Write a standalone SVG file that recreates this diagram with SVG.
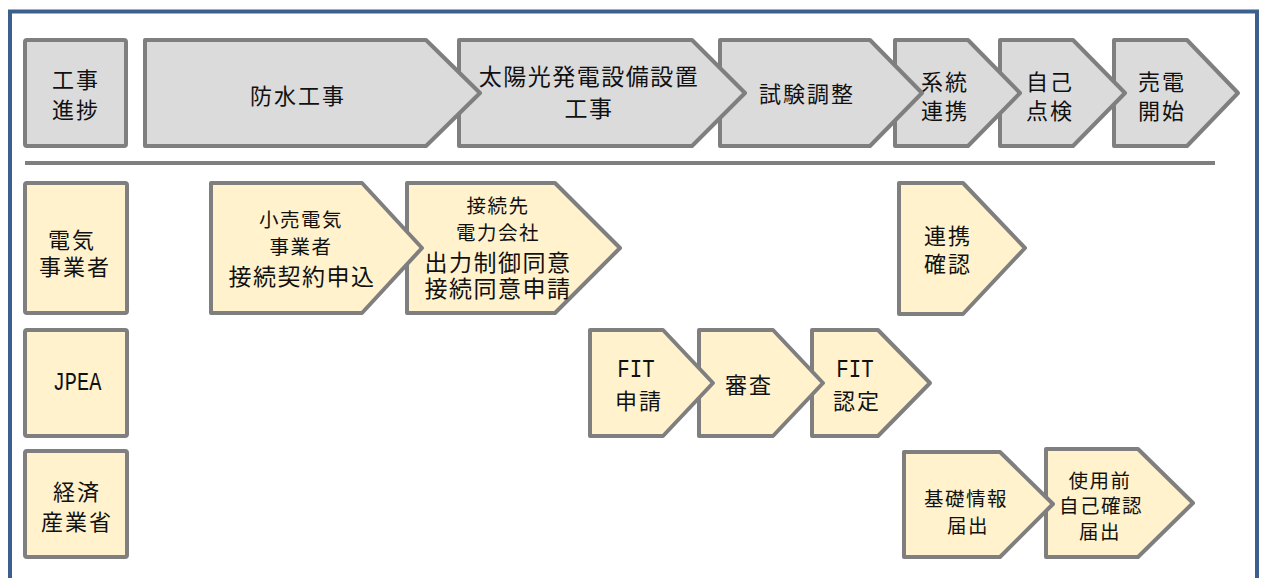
<svg xmlns="http://www.w3.org/2000/svg" width="1264" height="578" viewBox="0 0 1264 578">
<style>
.g{fill:#dcdbdc;stroke:#7f7f7f;stroke-width:4;stroke-linejoin:round}
.c{fill:#fff2cc;stroke:#7f7f7f;stroke-width:4;stroke-linejoin:round}
text{font-family:"Liberation Sans","Noto Sans CJK JP","Noto Sans CJK SC",sans-serif;fill:#111;text-anchor:middle;dominant-baseline:central}
.t22{font-size:22px;letter-spacing:2px}
.t24{font-size:23px;letter-spacing:1.5px}
.t20{font-size:19.5px;letter-spacing:1.5px}
.m{font-family:"Liberation Mono",monospace;font-size:26px}
</style>
<rect x="10" y="11.5" width="1247" height="620" fill="#fff" stroke="#3c5f8e" stroke-width="4"/>
<g id="connectors">
<line x1="25" y1="163" x2="1215" y2="163" stroke="#7f7f7f" stroke-width="4"/>
</g>
<!-- row 1 -->
<g id="kouji-shinchoku"><rect class="g" x="25" y="40" width="101" height="106" rx="2"/><text class="t22"><tspan x="76" y="80">工事</tspan><tspan x="76" y="110">進捗</tspan></text></g>
<g id="baiden"><polygon class="g" points="1114,40 1187,40 1238,93 1187,146 1114,146"/><text class="t22"><tspan x="1162" y="82">売電</tspan><tspan x="1162" y="111">開始</tspan></text></g>
<g id="jiko-tenken"><polygon class="g" points="1000,40 1073,40 1125,93 1073,146 1000,146"/><text class="t22"><tspan x="1050" y="82">自己</tspan><tspan x="1050" y="111">点検</tspan></text></g>
<g id="keito-renkei"><polygon class="g" points="895,40 968,40 1020,93 968,146 895,146"/><text class="t22"><tspan x="945" y="82">系統</tspan><tspan x="945" y="111">連携</tspan></text></g>
<g id="shiken-chosei"><polygon class="g" points="720,40 870,40 922,93 870,146 720,146"/><text class="t22" x="807" y="94">試験調整</text></g>
<g id="taiyoko"><polygon class="g" points="459,40 692,40 745,93 692,146 459,146"/><text class="t24"><tspan x="589" y="77">太陽光発電設備設置</tspan><tspan x="589" y="109">工事</tspan></text></g>
<g id="bousui"><polygon class="g" points="145,40 426,40 480,93 426,146 145,146"/><text class="t22" x="298" y="96">防水工事</text></g>
<!-- row 2 -->
<g id="denki-jigyosha"><rect class="c" x="25" y="183" width="102" height="130" rx="2"/><text class="t22"><tspan x="72" y="240">電気</tspan><tspan x="75" y="267">事業者</tspan></text></g>
<g id="renkei-kakunin"><polygon class="c" points="899,183 963,183 1025,248 963,314 899,314"/><text class="t22"><tspan x="948" y="236">連携</tspan><tspan x="948" y="264">確認</tspan></text></g>
<g id="setsuzokusaki"><polygon class="c" points="407,183 555,183 620,248 555,313 407,313"/><text><tspan class="t20" x="498" y="206">接続先</tspan><tspan class="t20" x="498" y="233">電力会社</tspan><tspan class="t24" x="498" y="263">出力制御同意</tspan><tspan class="t24" x="498" y="289">接続同意申請</tspan></text></g>
<g id="kouri"><polygon class="c" points="211,183 362,183 422,248 362,313 211,313"/><text><tspan class="t20" x="301" y="220">小売電気</tspan><tspan class="t20" x="301" y="247">事業者</tspan><tspan class="t24" x="302" y="277">接続契約申込</tspan></text></g>
<!-- row 3 -->
<g id="jpea"><rect class="c" x="25" y="330" width="102" height="106" rx="2"/><text class="m" transform="translate(77,383) scale(0.78,1)">JPEA</text></g>
<g id="fit-nintei"><polygon class="c" points="812,330 878,330 930,383 878,436 812,436"/><text class="m" transform="translate(855,370) scale(0.8,1)">FIT</text><text class="t22" x="857" y="401">認定</text></g>
<g id="shinsa"><polygon class="c" points="699,330 773,330 823,383 773,436 699,436"/><text class="t22" x="749" y="385">審査</text></g>
<g id="fit-shinsei"><polygon class="c" points="590,330 663,330 713,383 663,436 590,436"/><text class="m" transform="translate(636,370) scale(0.8,1)">FIT</text><text class="t22" x="639" y="401">申請</text></g>
<!-- row 4 -->
<g id="keizai-sangyosho"><rect class="c" x="25" y="451" width="102" height="106" rx="2"/><text class="t22"><tspan x="77" y="492">経済</tspan><tspan x="77" y="522">産業省</tspan></text></g>
<g id="shiyomae"><polygon class="c" points="1046,449 1138,449 1193,503 1138,557 1046,557"/><text class="t20"><tspan x="1100" y="481">使用前</tspan><tspan x="1101" y="506">自己確認</tspan><tspan x="1100" y="532">届出</tspan></text></g>
<g id="kiso-joho"><polygon class="c" points="904,452 1000,452 1053,504 1000,557 904,557"/><text class="t20"><tspan x="966" y="499">基礎情報</tspan><tspan x="968" y="526">届出</tspan></text></g>
</svg>
